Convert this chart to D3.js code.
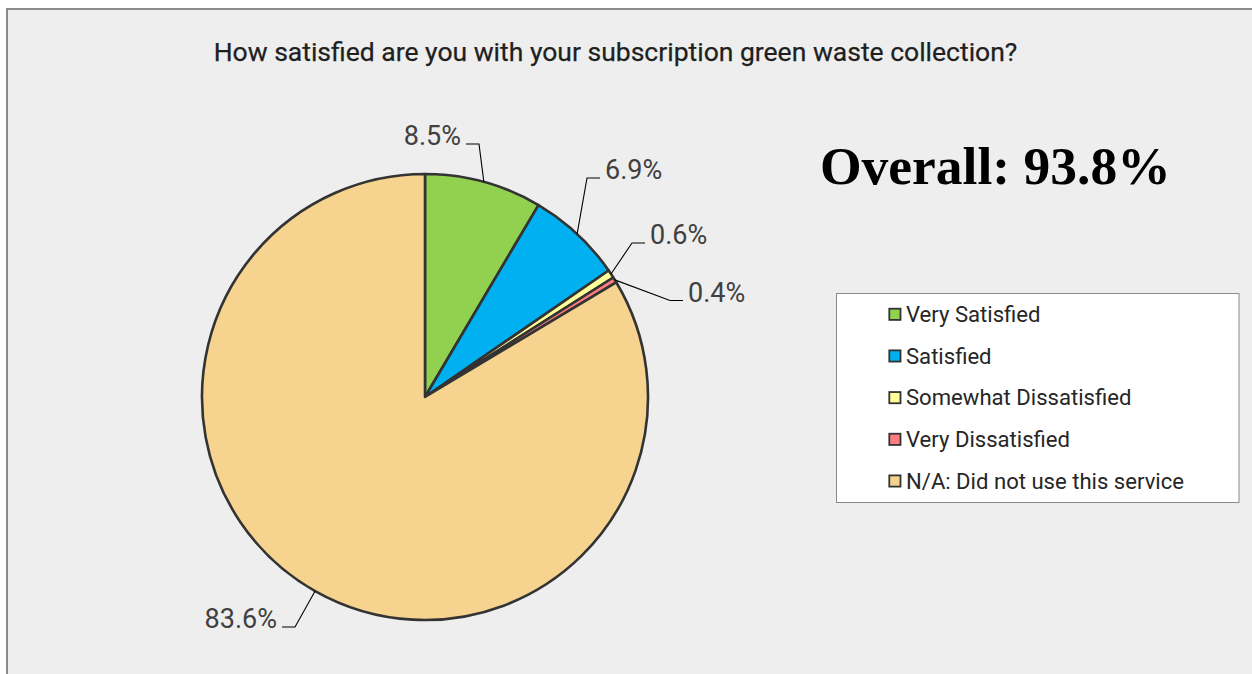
<!DOCTYPE html>
<html>
<head>
<meta charset="utf-8">
<script src="https://cdn.jsdelivr.net/npm/d3@7"></script>
<style>
  html, body { margin: 0; padding: 0; background: #ffffff; }
  svg { display: block; }
</style>
</head>
<body>
<svg id="chart" width="1252" height="674"></svg>
<script>
// ---- data ----
const categories = ["Very Satisfied", "Satisfied", "Somewhat Dissatisfied", "Very Dissatisfied", "N/A: Did not use this service"];
const values = [8.5, 6.9, 0.6, 0.4, 83.6];
const labels = ["8.5%", "6.9%", "0.6%", "0.4%", "83.6%"];
const colors = ["#92D050", "#00B0F0", "#FFFF99", "#FF7C80", "#F6D490"];
const titleText = "How satisfied are you with your subscription green waste collection?";
const overallText = "Overall: 93.8%";

// ---- layout (label elbows relative to pie centre, side of text) ----
const labelLayout = [
  { elbow: [54, -253], side: -1 },
  { elbow: [162, -219], side: 1 },
  { elbow: [207, -154], side: 1 },
  { elbow: [245, -96.5], side: 1 },
  { elbow: [-130, 230], side: -1 }
];

const svg = d3.select("#chart");

// chart area
svg.append("rect")
  .attr("x", 7).attr("y", 9)
  .attr("width", 1300).attr("height", 700)
  .attr("fill", "#eeeeee")
  .attr("stroke", "#8a8a8a")
  .attr("stroke-width", 2);

// title
svg.append("text")
  .attr("x", 615.5).attr("y", 61)
  .attr("text-anchor", "middle")
  .attr("font-family", "Roboto, 'Liberation Sans', Arial, sans-serif")
  .attr("font-size", 26.5)
  .attr("fill", "#1f1f1f")
  .attr("stroke", "#1f1f1f")
  .attr("stroke-width", 0.25)
  .text(titleText);

// overall
svg.append("text")
  .attr("x", 820).attr("y", 184)
  .attr("font-family", "'Liberation Serif', 'Times New Roman', serif")
  .attr("font-weight", "bold")
  .attr("font-size", 53.5)
  .attr("fill", "#000000")
  .text(overallText);

// pie
const cx = 425, cy = 397, R = 223;
const pie = d3.pie().sort(null).value(d => d)(values);
const arc = d3.arc().innerRadius(0).outerRadius(R);
const g = svg.append("g").attr("transform", `translate(${cx},${cy})`);

g.selectAll("path.slice")
  .data(pie)
  .join("path")
  .attr("class", "slice")
  .attr("d", arc)
  .attr("fill", (d, i) => colors[i])
  .attr("stroke", "#333333")
  .attr("stroke-width", 2.6)
  .attr("stroke-linejoin", "round");

// leader lines + labels
pie.forEach((d, i) => {
  const a = (d.startAngle + d.endAngle) / 2;
  const px = R * Math.sin(a), py = -R * Math.cos(a);
  const [ex, ey] = labelLayout[i].elbow;
  const side = labelLayout[i].side;
  const hx = ex + side * 13;
  g.append("polyline")
    .attr("points", `${px},${py} ${ex},${ey} ${hx},${ey}`)
    .attr("fill", "none")
    .attr("stroke", "#000000")
    .attr("stroke-width", 1.1);
  g.append("text")
    .attr("x", hx + side * 5)
    .attr("y", ey + 1)
    .attr("text-anchor", side > 0 ? "start" : "end")
    .attr("font-family", "Roboto, 'Liberation Sans', Arial, sans-serif")
    .attr("font-size", 27)
    .attr("fill", "#404040")
    .text(labels[i]);
});

// legend
const lx = 836.5, ly = 293.5, lw = 402.5, lh = 209;
svg.append("rect")
  .attr("x", lx).attr("y", ly)
  .attr("width", lw).attr("height", lh)
  .attr("fill", "#ffffff")
  .attr("stroke", "#8a8a8a")
  .attr("stroke-width", 1);

const legY = d3.scalePoint().domain(categories).range([314.3, 481]);
const leg = svg.append("g");
categories.forEach((c, i) => {
  const y = legY(c);
  leg.append("rect")
    .attr("x", 889.3).attr("y", y - 5.6)
    .attr("width", 11.2).attr("height", 11.2)
    .attr("fill", colors[i])
    .attr("stroke", "#333333")
    .attr("stroke-width", 1.8);
  leg.append("text")
    .attr("x", 906).attr("y", y + 7.6)
    .attr("font-family", "Roboto, 'Liberation Sans', Arial, sans-serif")
    .attr("font-size", 22.1)
    .attr("fill", "#262626")
    .text(c);
});
</script>
</body>
</html>
